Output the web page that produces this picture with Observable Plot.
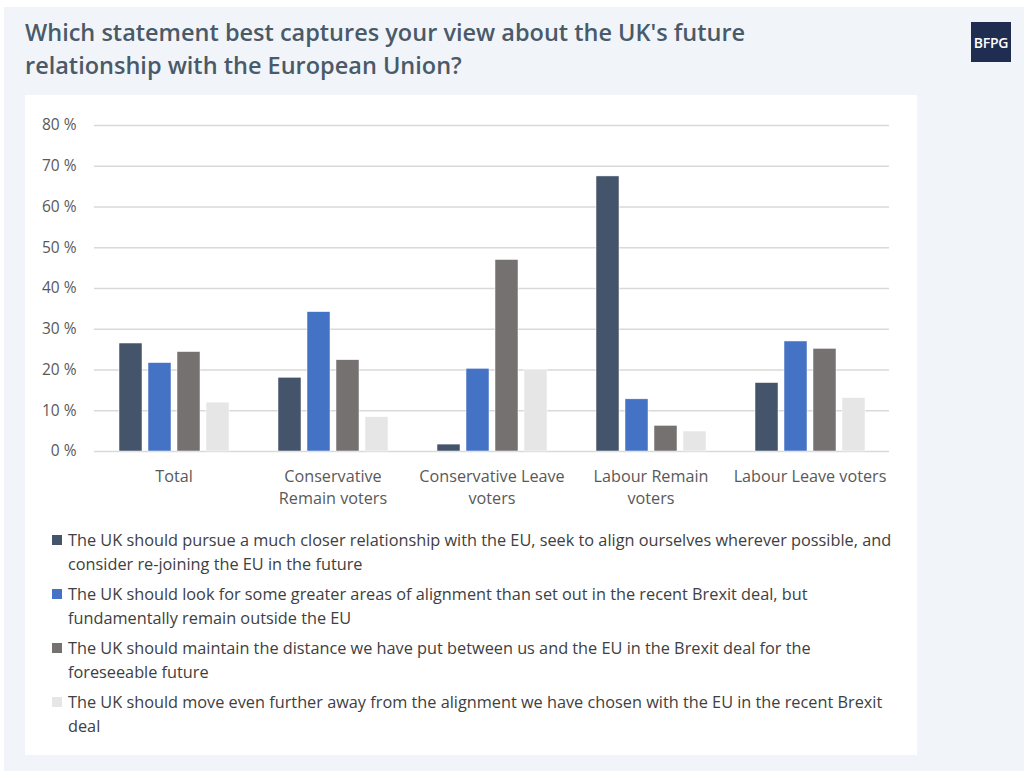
<!DOCTYPE html>
<html>
<head>
<meta charset="utf-8">
<script src="https://cdn.jsdelivr.net/npm/d3@7"></script>
<script src="https://cdn.jsdelivr.net/npm/@observablehq/plot@0.6"></script>
<style>
  body { margin: 0; background: #ffffff; font-family: "Open Sans", sans-serif; }
  #outer { position: absolute; left: 4px; top: 7px; width: 1020px; height: 764px; background: #f1f5f9; }
  #title { position: absolute; left: 21px; top: 9px; width: 800px; font-size: 23.5px; font-weight: 600; line-height: 33px; color: #4a5a69; }
  #logo { position: absolute; left: 967px; top: 15px; width: 40px; height: 40px; background: #1f2d50; color: #fff; font-size: 14px; font-weight: 600; display: flex; align-items: center; justify-content: center; letter-spacing: -0.3px; }
  #panel { position: absolute; left: 21px; top: 88px; width: 892px; height: 660px; background: #ffffff; }
  #chart { position: absolute; left: 0; top: 0; }
  #legend { position: absolute; left: 27px; top: 433px; width: 860px; }
  .item { display: flex; align-items: flex-start; margin-bottom: 6px; }
  .sw { width: 10px; height: 10px; flex: none; margin-top: 7px; margin-right: 6px; }
  .lt { font-size: 16.3px; line-height: 24px; color: #404040; width: 834px; }
</style>
</head>
<body>
<div id="outer">
  <div id="title">Which statement best captures your view about the UK's future<br>relationship with the European Union?</div>
  <div id="logo">BFPG</div>
  <div id="panel">
    <div id="chart"></div>
    <div id="legend"></div>
  </div>
</div>
<script>
const groups = ["Total", "Conservative\nRemain voters", "Conservative Leave\nvoters", "Labour Remain\nvoters", "Labour Leave voters"];
const statements = [
  "The UK should pursue a much closer relationship with the EU, seek to align ourselves wherever possible, and consider re-joining the EU in the future",
  "The UK should look for some greater areas of alignment than set out in the recent Brexit deal, but fundamentally remain outside the EU",
  "The UK should maintain the distance we have put between us and the EU in the Brexit deal for the foreseeable future",
  "The UK should move even further away from the alignment we have chosen with the EU in the recent Brexit deal"
];
const closer   = [26.5, 18.1, 1.7, 67.5, 16.8];
const someMore = [21.7, 34.2, 20.3, 12.8, 27.0];
const maintain = [24.4, 22.4, 47.0, 6.3, 25.2];
const further  = [12.0, 8.4, 20.1, 4.9, 13.1];
const colors = ["#44546a", "#4472c4", "#767171", "#e7e6e6"];
const yTicks = [0, 10, 20, 30, 40, 50, 60, 70, 80];

const series = [closer, someMore, maintain, further];
const data = [];
groups.forEach((g, i) => series.forEach((s, j) => data.push({group: g, statement: statements[j], value: s[i]})));

const chart = Plot.plot({
  width: 892,
  height: 430,
  marginLeft: 69,
  marginRight: 28,
  marginTop: 30,
  marginBottom: 74,
  style: {fontFamily: "Open Sans, sans-serif", fontSize: "15.5px", color: "#595959", background: "transparent"},
  fx: {domain: groups, padding: 0, label: null},
  x: {domain: statements, paddingInner: 0.22, paddingOuter: 0.85, axis: null},
  y: {domain: [0, 80], ticks: yTicks, label: null},
  color: {domain: statements, range: colors},
  marks: [
    Plot.ruleY(yTicks, {stroke: "#d9d9d9", strokeWidth: 1.5}),
    Plot.axisY(yTicks, {tickSize: 0, tickPadding: 18, tickFormat: d => d + " %", label: null, fill: "#595959"}),
    Plot.axisFx({anchor: "bottom", tickSize: 0, tickPadding: 14, label: null, lineHeight: 1.4, fontSize: 16.2, fill: "#595959"}),
    Plot.barY(data, {fx: "group", x: "statement", y: "value", fill: "statement", stroke: "#ffffff", strokeWidth: 0.5})
  ]
});
document.getElementById("chart").appendChild(chart);

const legend = document.getElementById("legend");
statements.forEach((s, i) => {
  const item = document.createElement("div");
  item.className = "item";
  const sw = document.createElement("div");
  sw.className = "sw";
  sw.style.background = colors[i];
  const t = document.createElement("div");
  t.className = "lt";
  t.textContent = s;
  item.appendChild(sw);
  item.appendChild(t);
  legend.appendChild(item);
});
</script>
</body>
</html>
